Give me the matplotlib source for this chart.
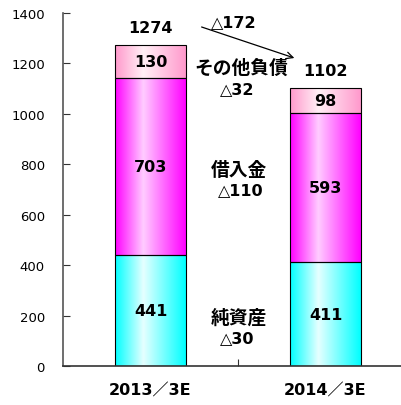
import numpy as np
import matplotlib
matplotlib.use("Agg")
import matplotlib.pyplot as plt
from matplotlib.colors import LinearSegmentedColormap

# Balance sheet composition (liabilities & net assets), in units
periods = ["2013／3E", "2014／3E"]
net_assets = [441, 411]
borrowings = [703, 593]
other_liab = [130, 98]
totals = [1274, 1102]
yticks = [0, 200, 400, 600, 800, 1000, 1200, 1400]

FAM = ["DejaVu Sans", "Noto Sans CJK JP"]
JP = ["Noto Sans CJK JP", "DejaVu Sans"]

fig = plt.figure(figsize=(4.01, 4.06), dpi=100)
ax = fig.add_axes([63 / 401, 39 / 406, 350 / 401, 353 / 406])

width = 0.405
x = np.arange(len(periods))


def gradient_cmap(edge, center):
    return LinearSegmentedColormap.from_list(
        "g", [(0, edge), (0.4, center), (1, edge)])


cm_net = gradient_cmap("#00ffff", "#e6ffff")
cm_bor = gradient_cmap("#ff00ff", "#ffccff")
cm_oth = gradient_cmap("#ff99cc", "#fff0f6")

grad = np.linspace(0, 1, 256).reshape(1, -1)

segments = [(net_assets, cm_net), (borrowings, cm_bor), (other_liab, cm_oth)]
for i, xi in enumerate(x):
    bottom = 0
    for vals, cmap in segments:
        v = vals[i]
        ax.imshow(grad, cmap=cmap, aspect="auto",
                  extent=(xi - width / 2, xi + width / 2, bottom, bottom + v),
                  zorder=1, interpolation="bilinear")
        ax.bar(xi, v, width, bottom=bottom, facecolor="none",
               edgecolor="black", linewidth=0.8, zorder=2)
        ax.text(xi, bottom + v / 2, str(v), ha="center", va="center",
                fontsize=11.5, fontweight="bold", family=FAM, zorder=3)
        bottom += v
    ax.text(xi, totals[i] + 70, str(totals[i]), ha="center", va="center",
            fontsize=11.5, fontweight="bold", family=FAM, zorder=3)

ax.set_xlim(-0.5, 1.5)
ax.set_ylim(0, 1400)
ax.set_yticks(yticks)
ax.set_yticklabels([str(t) for t in yticks], fontsize=9.5)

# single divider tick between the periods, labels via minor ticks
ax.set_xticks([0.5])
ax.set_xticklabels([""])
ax.set_xticks(x, minor=True)
ax.set_xticklabels(periods, minor=True, fontsize=11.5, fontweight="bold",
                   family=FAM)
ax.tick_params(axis="x", which="major", direction="in", length=5,
               color="#333333")
ax.tick_params(axis="x", which="minor", length=0, pad=12)
ax.tick_params(axis="y", direction="in", length=5, color="#333333", pad=13)

for s in ["top", "right"]:
    ax.spines[s].set_visible(False)
ax.spines["left"].set_color("#555555")
ax.spines["bottom"].set_color("#333333")
ax.spines["left"].set_linewidth(1.2)
ax.spines["bottom"].set_linewidth(1.2)

# change annotations
ax.annotate("", xy=(0.837, 1218), xytext=(0.277, 1348),
            arrowprops=dict(arrowstyle="->", color="black", lw=0.9,
                            mutation_scale=12))
ax.text(0.477, 1368, "△172", ha="center", va="center", fontsize=11.5,
        fontweight="bold", family=FAM)
ax.text(0.517, 1186, "その他負債", ha="center", va="center", fontsize=13.5,
        fontweight="bold", family=JP)
ax.text(0.494, 1099, "△32", ha="center", va="center", fontsize=11.5,
        fontweight="bold", family=FAM)
ax.text(0.506, 781, "借入金", ha="center", va="center", fontsize=13.5,
        fontweight="bold", family=JP)
ax.text(0.517, 698, "△110", ha="center", va="center", fontsize=11.5,
        fontweight="bold", family=FAM)
ax.text(0.506, 194, "純資産", ha="center", va="center", fontsize=13.5,
        fontweight="bold", family=JP)
ax.text(0.497, 111, "△30", ha="center", va="center", fontsize=11.5,
        fontweight="bold", family=FAM)

fig.savefig("out.png", dpi=100)
